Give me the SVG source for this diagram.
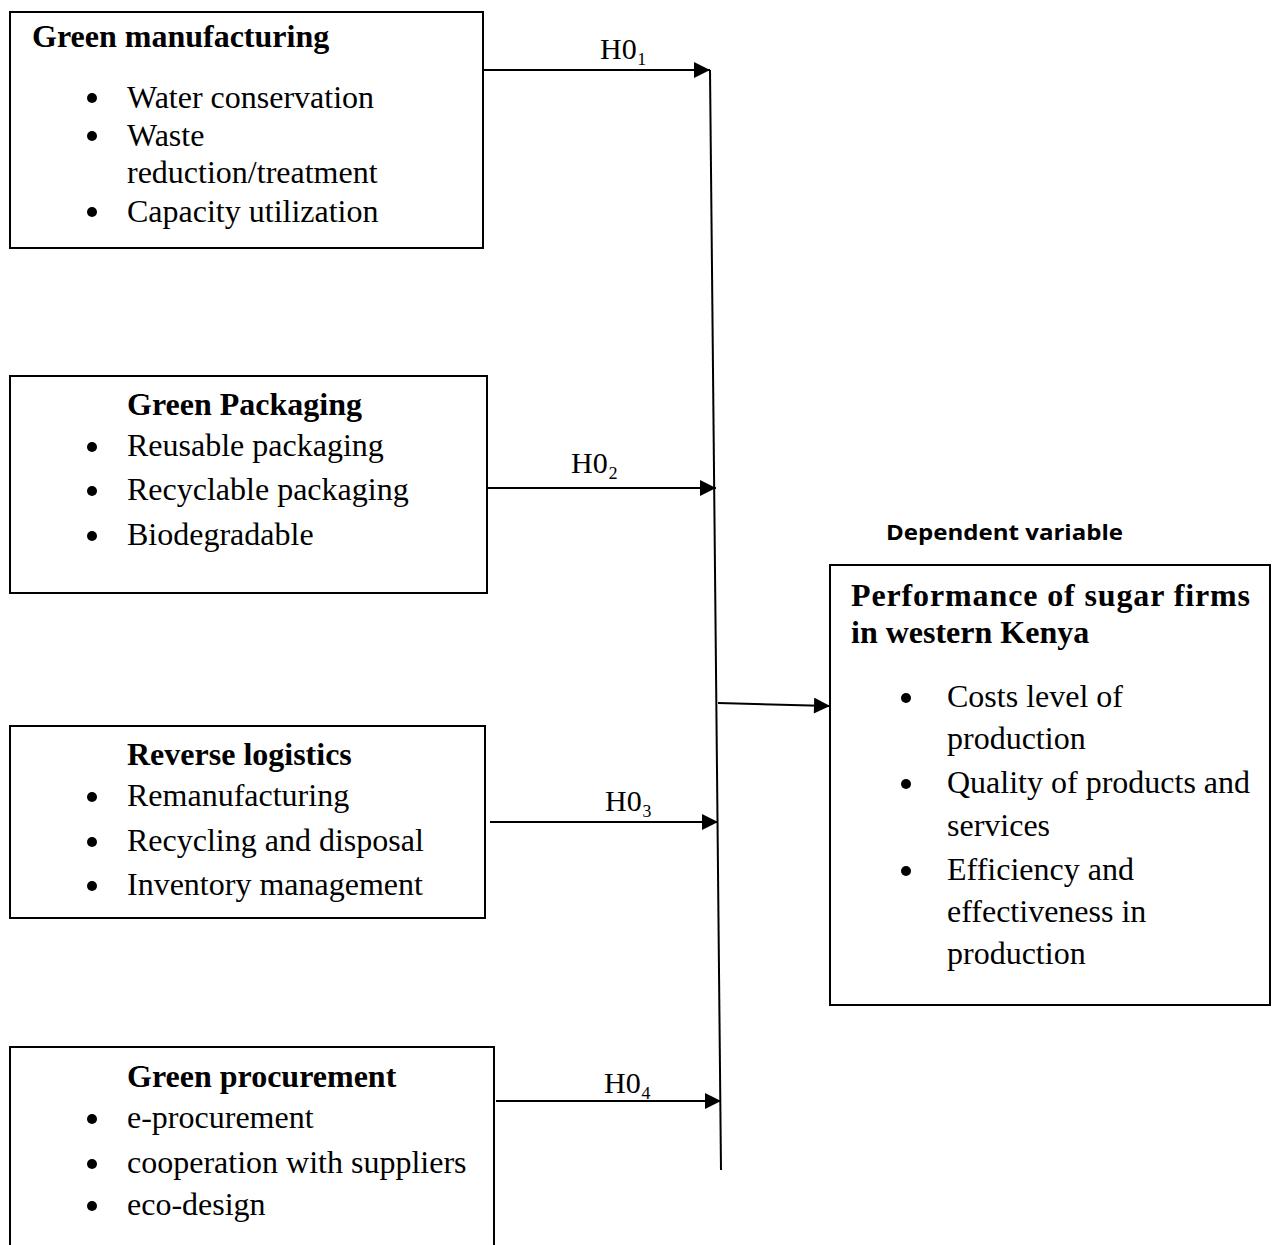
<svg xmlns="http://www.w3.org/2000/svg" width="1275" height="1245" viewBox="0 0 1275 1245">
<style>
.box{fill:#fff;stroke:#000;stroke-width:2}
.t{font-family:"Liberation Serif","Times New Roman",serif;font-size:32px;fill:#000}
.b{font-weight:bold}
.h{font-family:"Liberation Serif","DejaVu Serif",serif;font-size:30px;fill:#000}
.dv{font-family:"Open Sans","Liberation Sans",sans-serif;font-size:22px;font-weight:bold;fill:#000}
.ln{stroke:#000;stroke-width:2;fill:none}
.dot{fill:#000}
</style>
<defs>
<marker id="ahb" viewBox="0 0 10 10" refX="10" refY="5" markerWidth="20" markerHeight="16" markerUnits="userSpaceOnUse" orient="auto">
<path d="M0,0 L10,5 L0,10 Z" fill="#000"/>
</marker>
</defs>

<g id="connectors">
<line class="ln" x1="710" y1="70" x2="721" y2="1170"/>
<line class="ln" x1="483" y1="70" x2="710" y2="70" marker-end="url(#ahb)"/>
<line class="ln" x1="488" y1="488" x2="716" y2="488" marker-end="url(#ahb)"/>
<line class="ln" x1="490" y1="822" x2="718" y2="822" marker-end="url(#ahb)"/>
<line class="ln" x1="496" y1="1101" x2="721" y2="1101" marker-end="url(#ahb)"/>
<line class="ln" x1="718" y1="703" x2="830" y2="706" marker-end="url(#ahb)"/>
<text class="h" x="600" y="59">H0₁</text>
<text class="h" x="571" y="473">H0₂</text>
<text class="h" x="605" y="811">H0₃</text>
<text class="h" x="604" y="1093">H0₄</text>
</g>

<g id="green-manufacturing">
<rect class="box" x="10" y="12" width="473" height="236"/>
<text class="t b" x="32" y="47">Green manufacturing</text>
<circle class="dot" cx="92" cy="98" r="5"/>
<text class="t" x="127" y="108">Water conservation</text>
<circle class="dot" cx="92" cy="136" r="5"/>
<text class="t" x="127" y="146">Waste</text>
<text class="t" x="127" y="183">reduction/treatment</text>
<circle class="dot" cx="92" cy="212" r="5"/>
<text class="t" x="127" y="222">Capacity utilization</text>
</g>

<g id="green-packaging">
<rect class="box" x="10" y="376" width="477" height="217"/>
<text class="t b" x="127" y="415">Green Packaging</text>
<circle class="dot" cx="92" cy="447" r="5"/>
<text class="t" x="127" y="456">Reusable packaging</text>
<circle class="dot" cx="92" cy="491" r="5"/>
<text class="t" x="127" y="500">Recyclable packaging</text>
<circle class="dot" cx="92" cy="536" r="5"/>
<text class="t" x="127" y="545">Biodegradable</text>
</g>

<g id="reverse-logistics">
<rect class="box" x="10" y="726" width="475" height="192"/>
<text class="t b" x="127" y="765">Reverse logistics</text>
<circle class="dot" cx="92" cy="797" r="5"/>
<text class="t" x="127" y="806">Remanufacturing</text>
<circle class="dot" cx="92" cy="842" r="5"/>
<text class="t" x="127" y="851">Recycling and disposal</text>
<circle class="dot" cx="92" cy="886" r="5"/>
<text class="t" x="127" y="895">Inventory management</text>
</g>

<g id="green-procurement">
<rect class="box" x="10" y="1047" width="484" height="220"/>
<text class="t b" x="127" y="1087">Green procurement</text>
<circle class="dot" cx="92" cy="1119" r="5"/>
<text class="t" x="127" y="1128">e-procurement</text>
<circle class="dot" cx="92" cy="1164" r="5"/>
<text class="t" x="127" y="1173">cooperation with suppliers</text>
<circle class="dot" cx="92" cy="1206" r="5"/>
<text class="t" x="127" y="1215">eco-design</text>
</g>

<g id="performance">
<text class="dv" x="886" y="540" textLength="237" lengthAdjust="spacingAndGlyphs">Dependent variable</text>
<rect class="box" x="830" y="565" width="440" height="440"/>
<text class="t b" x="851" y="606" textLength="399" lengthAdjust="spacing">Performance of sugar firms</text>
<text class="t b" x="851" y="643">in western Kenya</text>
<circle class="dot" cx="906" cy="698" r="5"/>
<text class="t" x="947" y="707">Costs level of</text>
<text class="t" x="947" y="749">production</text>
<circle class="dot" cx="906" cy="784" r="5"/>
<text class="t" x="947" y="793">Quality of products and</text>
<text class="t" x="947" y="836">services</text>
<circle class="dot" cx="906" cy="871" r="5"/>
<text class="t" x="947" y="880">Efficiency and</text>
<text class="t" x="947" y="922">effectiveness in</text>
<text class="t" x="947" y="964">production</text>
</g>
</svg>
